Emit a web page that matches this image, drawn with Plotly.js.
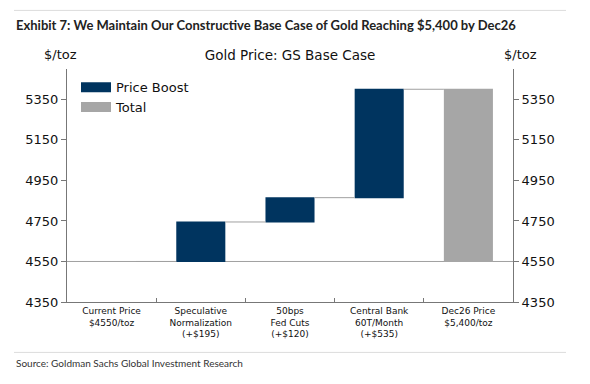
<!DOCTYPE html>
<html>
<head>
<meta charset="utf-8">
<script src="https://cdn.plot.ly/plotly-3.0.1.min.js"></script>
<style>
  html, body { margin: 0; padding: 0; background: #fff; }
  #chart { width: 590px; height: 384px; }
</style>
</head>
<body>
<div id="chart"></div>
<script>
// ---- data ----
const categories = [
  "Current Price<br>$4550/toz",
  "Speculative<br>Normalization<br>(+$195)",
  "50bps<br>Fed Cuts<br>(+$120)",
  "Central Bank<br>60T/Month<br>(+$535)",
  "Dec26 Price<br>$5,400/toz"
];
const currentPrice = 4550;
const boosts = [195, 120, 535];
const measures = ["absolute", "relative", "relative", "relative", "total"];
const tickVals = [4350, 4550, 4750, 4950, 5150, 5350];
const yRange = [4350, 5500];
const legendNames = ["Price Boost", "Total"];

// ---- styles ----
const navy = "#00345f";
const grey = "#a6a6a6";
const axisColor = "#777";

const waterfall = {
  type: "waterfall",
  x: categories,
  y: [0].concat(boosts, [0]),
  measure: measures,
  base: currentPrice,
  width: 0.55,
  increasing: { marker: { color: navy } },
  decreasing: { marker: { color: navy } },
  totals: { marker: { color: grey } },
  connector: { mode: "between", line: { color: "#a0a0a0", width: 1 } },
  textinfo: "none",
  hoverinfo: "x+y",
  showlegend: false
};

const legendBoost = {
  type: "scatter", mode: "lines", x: [null], y: [null],
  name: legendNames[0], line: { color: navy, width: 10 }, hoverinfo: "skip"
};
const legendTotal = {
  type: "scatter", mode: "lines", x: [null], y: [null], yaxis: "y2",
  name: legendNames[1], line: { color: grey, width: 10 }, hoverinfo: "skip"
};

const plotLeft = 67, plotWidth = 446, plotBottom = 302.3, plotHeight = 233;
const px = (x) => (x - plotLeft) / plotWidth;
const py = (y) => (plotBottom - y) / plotHeight;

const yAxisCommon = {
  range: yRange,
  tickvals: tickVals,
  ticktext: tickVals.map(String),
  showline: true,
  linecolor: axisColor,
  linewidth: 1,
  ticks: "outside",
  ticklen: 5,
  tickcolor: axisColor,
  showgrid: false,
  zeroline: false,
  tickfont: { family: "DejaVu Sans", size: 13, color: "#111" }
};

const layout = {
  width: 590,
  height: 384,
  margin: { l: 67, r: 77, t: 69, b: 82 },
  paper_bgcolor: "#fff",
  plot_bgcolor: "#fff",
  font: { family: "DejaVu Sans", color: "#111" },
  title: {
    text: "Gold Price: GS Base Case",
    font: { family: "DejaVu Sans", size: 13.5, color: "#111" },
    xref: "paper", x: 0.5, xanchor: "center",
    yref: "container", y: 1 - 55 / 384, yanchor: "middle"
  },
  xaxis: {
    type: "category",
    showline: true,
    linecolor: axisColor,
    linewidth: 1,
    ticks: "inside",
    tickson: "boundaries",
    ticklen: 4,
    tickcolor: axisColor,
    showgrid: false,
    zeroline: false,
    tickangle: 0,
    tickfont: { family: "DejaVu Sans", size: 9, color: "#111" }
  },
  yaxis: Object.assign({}, yAxisCommon, { side: "left" }),
  yaxis2: Object.assign({}, yAxisCommon, { side: "right", overlaying: "y" }),
  showlegend: true,
  legend: {
    x: px(76), xanchor: "left",
    y: py(72.5), yanchor: "top",
    bgcolor: "rgba(0,0,0,0)",
    font: { family: "DejaVu Sans", size: 13, color: "#111" },
    traceorder: "normal"
  },
  shapes: [
    { type: "line", xref: "paper", yref: "y", x0: 0, x1: 1,
      y0: currentPrice, y1: currentPrice, layer: "below",
      line: { color: "#a0a0a0", width: 1 } },
    { type: "line", xref: "paper", yref: "paper", x0: px(14), x1: px(566),
      y0: py(10.7), y1: py(10.7), line: { color: "#dcdcdc", width: 1 } },
    { type: "line", xref: "paper", yref: "paper", x0: px(14), x1: px(566),
      y0: py(352.7), y1: py(352.7), line: { color: "#dcdcdc", width: 1 } }
  ],
  annotations: [
    { text: "<b>Exhibit 7: We Maintain Our Constructive Base Case of Gold Reaching $5,400 by Dec26</b>",
      xref: "paper", yref: "paper", x: px(14), y: py(25.7),
      xanchor: "left", yanchor: "middle", showarrow: false,
      font: { family: "Lato", size: 13, color: "#222" } },
    { text: "$/toz", xref: "paper", yref: "paper", x: px(60), y: py(55),
      xanchor: "center", yanchor: "middle", showarrow: false,
      font: { family: "DejaVu Sans", size: 13, color: "#111" } },
    { text: "$/toz", xref: "paper", yref: "paper", x: px(520), y: py(55),
      xanchor: "center", yanchor: "middle", showarrow: false,
      font: { family: "DejaVu Sans", size: 13, color: "#111" } },
    { text: "Source: Goldman Sachs Global Investment Research",
      xref: "paper", yref: "paper", x: px(14), y: py(363.3),
      xanchor: "left", yanchor: "middle", showarrow: false,
      font: { family: "Lato", size: 10, color: "#333" } }
  ]
};

Plotly.newPlot("chart", [waterfall, legendBoost, legendTotal], layout, { displayModeBar: false, staticPlot: true });
</script>
</body>
</html>
